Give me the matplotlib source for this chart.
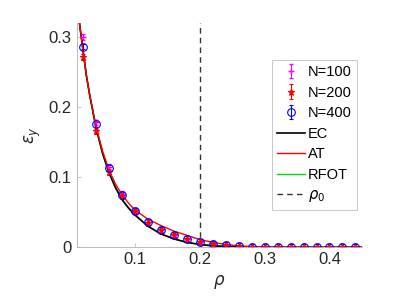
import matplotlib
matplotlib.use("Agg")
import matplotlib.pyplot as plt
import numpy as np

plt.rcParams['font.family'] = ['Liberation Sans', 'DejaVu Sans']
plt.rcParams['mathtext.fontset'] = 'dejavusans'

# simulation points
rho = [0.02, 0.04, 0.06, 0.08, 0.10, 0.12, 0.14, 0.16, 0.18, 0.20, 0.22,
       0.24, 0.26, 0.28, 0.30, 0.32, 0.34, 0.36, 0.38, 0.40, 0.42, 0.44]
eps_n100 = [0.300, 0.178, 0.114, 0.076, 0.052, 0.036, 0.025, 0.018, 0.012, 0.008,
            0.005, 0.003, 0.002, 0.001, 0.001, 0.001, 0.001, 0.001, 0.001, 0.001, 0.001, 0.001]
eps_n200 = [0.271, 0.165, 0.107, 0.073, 0.051, 0.035, 0.024, 0.017, 0.012, 0.008,
            0.005, 0.003, 0.002, 0.001, 0.001, 0.001, 0.001, 0.001, 0.001, 0.001, 0.001, 0.001]
eps_n400 = [0.286, 0.175, 0.113, 0.075, 0.052, 0.036, 0.025, 0.018, 0.012, 0.008,
            0.005, 0.003, 0.002, 0.001, 0.001, 0.001, 0.001, 0.001, 0.001, 0.001, 0.001, 0.001]
err_n100 = [0.004] * len(rho)
err_n200 = [0.004] * len(rho)
err_n400 = [0.004] * len(rho)

# theory curves
rho_th = [0.012, 0.015, 0.02, 0.025, 0.03, 0.04, 0.05, 0.06, 0.07, 0.08, 0.09, 0.10,
          0.12, 0.14, 0.16, 0.18, 0.20, 0.22, 0.24, 0.26, 0.28, 0.30, 0.35, 0.40, 0.45]
eps_ec = [0.340, 0.315, 0.280, 0.245, 0.218, 0.170, 0.134, 0.106, 0.085, 0.068, 0.056, 0.046,
          0.030, 0.019, 0.012, 0.007, 0.004, 0.002, 0.001, 0.0005, 0.0002, 0.0, 0.0, 0.0, 0.0]
eps_at = [0.340, 0.315, 0.280, 0.245, 0.218, 0.172, 0.137, 0.110, 0.090, 0.075, 0.063, 0.053,
          0.040, 0.031, 0.023, 0.017, 0.011, 0.007, 0.004, 0.002, 0.001, 0.0003, 0.0, 0.0, 0.0]
eps_rfot = [0.340, 0.315, 0.280, 0.245, 0.218, 0.170, 0.134, 0.106, 0.085, 0.068, 0.056, 0.046,
            0.030, 0.019, 0.012, 0.007, 0.004, 0.0025, 0.0015, 0.0008, 0.0003, 0.0, 0.0, 0.0, 0.0]
rho0 = 0.2

fig = plt.figure(figsize=(3.99, 2.99), dpi=100)
ax = fig.add_axes([0.192, 0.173, 0.715, 0.751])

h1 = ax.errorbar(rho, eps_n100, yerr=err_n100, fmt='+', color='magenta', ms=5, mew=1,
                 elinewidth=0.8, capsize=1.5, label='N=100')
h2 = ax.errorbar(rho, eps_n200, yerr=err_n200, fmt='*', color='red', ms=5, mew=0.8,
                 elinewidth=0.8, capsize=1.5, label='N=200')
h3 = ax.errorbar(rho, eps_n400, yerr=err_n400, fmt='o', color='blue', mfc='none', ms=5.5, mew=0.8,
                 elinewidth=0.8, capsize=1.5, label='N=400')
h4, = ax.plot(rho_th, eps_ec, color='black', lw=1.2, label='EC')
h5, = ax.plot(rho_th, eps_at, color='red', lw=1.0, label='AT')
h6, = ax.plot(rho_th, eps_rfot, color='#00dd00', lw=1.0, label='RFOT', zorder=1)
h7 = ax.axvline(rho0, color='#333333', ls=(0, (4, 3)), lw=1.0, label=r'$\rho_0$')

ax.set_xlim(0.01, 0.45)
ax.set_ylim(0, 0.32)
ax.set_xticks([0.1, 0.2, 0.3, 0.4])
ax.set_xticklabels(['0.1', '0.2', '0.3', '0.4'])
ax.set_yticks([0, 0.1, 0.2, 0.3])
ax.set_yticklabels(['0', '0.1', '0.2', '0.3'])
for s in ['top', 'right']:
    ax.spines[s].set_visible(False)
for s in ['left', 'bottom']:
    ax.spines[s].set_color('#b0b0b0')
    ax.spines[s].set_linewidth(0.6)
ax.tick_params(direction='in', length=3, width=0.5, color='#b0b0b0',
               labelsize=12, labelcolor='#262626')
ax.set_xlabel(r'$\rho$', fontsize=12, color='#262626')
ax.set_ylabel(r'$\epsilon_y$', fontsize=12, color='#262626')

handles = [h1, h2, h3, h4, h5, h6, h7]
leg = ax.legend(handles, [h.get_label() for h in handles],
                loc='upper left', bbox_to_anchor=(0.685, 0.834), fontsize=10.5,
                frameon=True, fancybox=False, edgecolor='#c0c0c0', handlelength=1.9,
                handletextpad=0.2, borderpad=0.35, labelspacing=0.45, borderaxespad=0,
                framealpha=1)
leg.get_frame().set_linewidth(0.6)

fig.savefig('out.png', dpi=100)
